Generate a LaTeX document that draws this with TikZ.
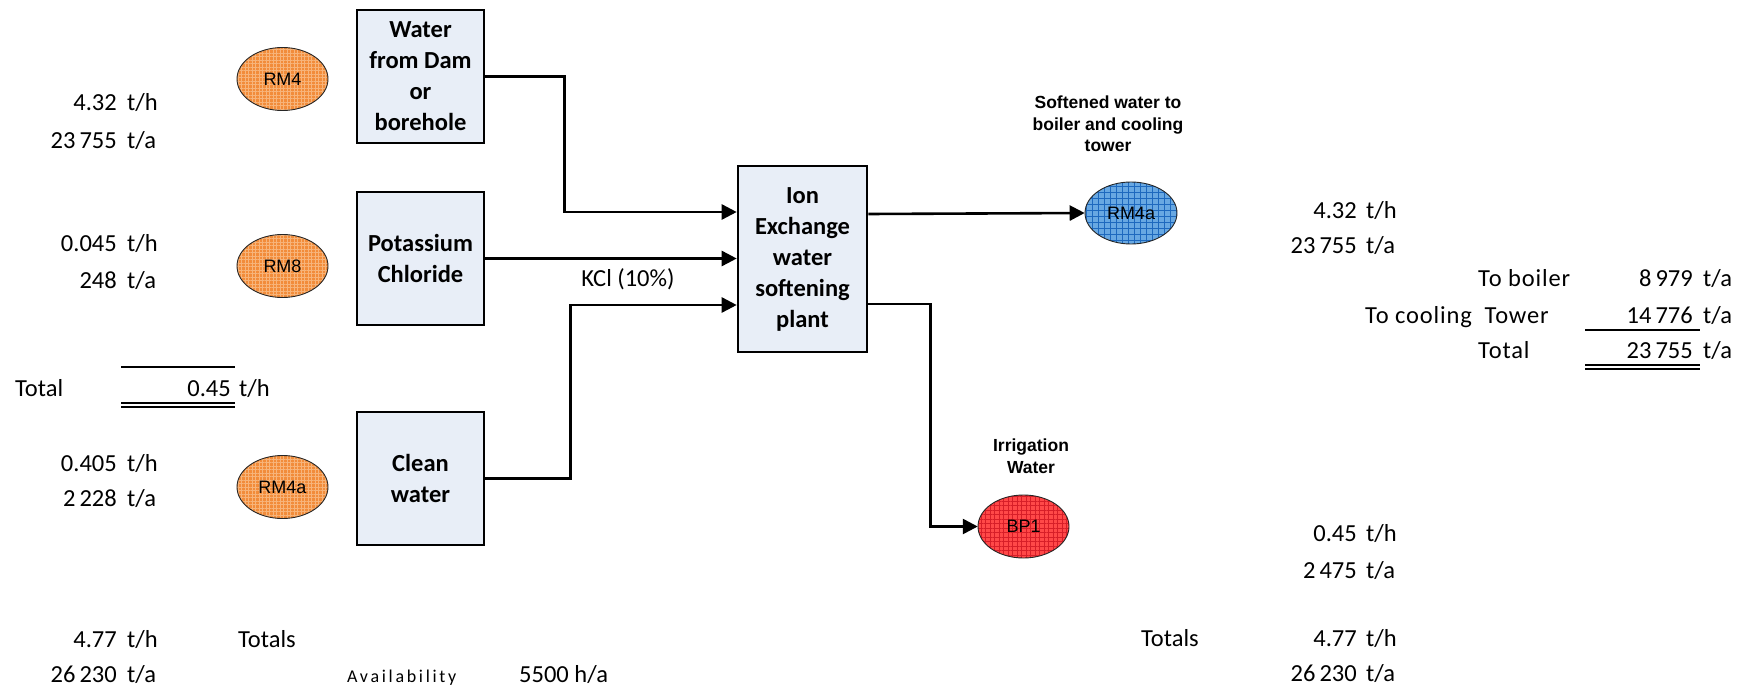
\documentclass[tikz,border=0pt]{standalone}
\usepackage{fontspec}
\setmainfont{Carlito}
\newfontfamily\arialfont{Liberation Sans}
\newfontfamily\spacedfont[LetterSpace=15]{Carlito}
\newfontfamily\widefont[LetterSpace=3.5]{Carlito}
\usetikzlibrary{arrows.meta,shapes.geometric,patterns.meta}

\definecolor{boxfill}{RGB}{232,238,247}
\definecolor{orangebase}{RGB}{242,140,58}
\definecolor{orangegrid}{RGB}{247,180,122}
\definecolor{bluebase}{RGB}{104,168,226}
\definecolor{bluegrid}{RGB}{30,105,190}
\definecolor{redbase}{RGB}{255,72,72}
\definecolor{redgrid}{RGB}{215,30,40}

\tikzset{
  unitbox/.style={draw=black, line width=2.6pt, fill=boxfill,
    minimum width=127pt, minimum height=133pt, inner sep=0pt, align=center,
    font=\bfseries\fontsize{24.5}{31}\selectfont},
  stream/.style={ellipse, draw=black!85, line width=0.9pt,
    minimum width=91pt, minimum height=63pt, inner sep=0pt,
    font=\arialfont\fontsize{18}{20}\selectfont},
  feedorange/.style={preaction={fill=orangebase},
    pattern={Hatch[angle=0,distance=3.5pt,line width=0.5pt]}, pattern color=orangegrid},
  productblue/.style={preaction={fill=bluebase},
    pattern={Hatch[angle=0,distance=6pt,line width=0.6pt]}, pattern color=bluegrid},
  byprodred/.style={preaction={fill=redbase},
    pattern={Hatch[angle=0,distance=4.5pt,line width=0.5pt]}, pattern color=redgrid},
  flow/.style={line width=2.6pt, -{Triangle[length=15pt,width=15pt]}},
  val/.style={inner sep=0pt, font=\fontsize{24.5}{30}\selectfont},
  num/.style={val, anchor=base east},
  unit/.style={val, anchor=base west},
  lefttext/.style={val, anchor=base west},
  splittext/.style={lefttext, font=\widefont\fontsize{24.5}{30}\selectfont},
  tag/.style={inner sep=0pt, align=center,
    font=\arialfont\bfseries\fontsize{17.5}{21.5}\selectfont},
  rule/.style={line width=2pt},
  dblrule/.style={line width=1.3pt},
}

\begin{document}
\begin{tikzpicture}[x=1pt,y=-1pt]
\useasboundingbox (0,0) rectangle (1744,690);

% process units
\node[unitbox] (dam) at (420.5,76.5) {Water\\from Dam\\or\\borehole};
\node[unitbox] (kcl) at (420.5,258.5) {Potassium\\Chloride};
\node[unitbox] (clean) at (420.5,478.5) {Clean\\water};
\node[unitbox, minimum width=129pt, minimum height=186pt] (ix) at (802.5,259)
  {Ion\\Exchange\\water\\softening\\plant};

% stream markers
\node[stream, feedorange] (rm4) at (282.5,79) {RM4};
\node[stream, feedorange] (rm8) at (282.5,266) {RM8};
\node[stream, feedorange] (rm4al) at (282.5,487) {RM4a};
\node[stream, productblue, minimum width=92pt, minimum height=62pt] (rm4ar) at (1131,213) {RM4a};
\node[stream, byprodred] (bp1) at (1023.5,526.5) {BP1};

% stream captions
\node[tag] (softlbl) at (1108,124) {Softened water to\\boiler and cooling\\tower};
\node[tag] (irrlbl) at (1031,456) {Irrigation\\Water};
\node[val] (kcllbl) at (628,279) {KCl (10\%)};

% flows into and out of the softening plant
\draw[flow] (dam.east) -- ++(79,0) |- ([yshift=47pt]ix.west);
\draw[flow] (kcl.east) -- (kcl.east -| ix.west);
\draw[flow] (clean.east) -- ++(85,0) |- ([yshift=-46pt]ix.west);
\draw[flow] ([yshift=45pt]ix.east) -- (rm4ar.west);
\draw[flow] ([yshift=-45pt]ix.east) -- ++(62,0) |- (bp1.west);

% inputs, left column
\node[num] (a1) at (117,111) {4.32};      \node[unit] (a1u) at (127,111) {t/h};
\node[num] (a2) at (117,148) {23\,755};   \node[unit] (a2u) at (127,148) {t/a};
\node[num] (b1) at (117,251) {0.045};     \node[unit] (b1u) at (127,251) {t/h};
\node[num] (b2) at (117,288) {248};       \node[unit] (b2u) at (127,288) {t/a};
\node[num] (c1) at (117,471) {0.405};     \node[unit] (c1u) at (127,471) {t/h};
\node[num] (c2) at (117,506) {2\,228};    \node[unit] (c2u) at (127,506) {t/a};
\node[num] (d1) at (117,647) {4.77};      \node[unit] (d1u) at (127,647) {t/h};
\node[num] (d2) at (117,682) {26\,230};   \node[unit] (d2u) at (127,682) {t/a};
\node[lefttext] (dlbl) at (238,647) {Totals};

% subtotal of the non-dam feeds
\node[lefttext] (tlbl) at (15,396) {Total};
\node[num] (t1) at (231,396) {0.45};      \node[unit] (t1u) at (239,396) {t/h};
\draw[rule] (121,367) -- (235,367);
\draw[dblrule] (121,403) -- (235,403) (121,407) -- (235,407);

% operating hours
\node[lefttext, font=\spacedfont\fontsize{18}{20}\selectfont] (avail) at (347,682) {Availability};
\node[lefttext] (hours) at (519,682) {5500 h/a};

% outputs, right column
\node[num] (e1) at (1357,218) {4.32};     \node[unit] (e1u) at (1366,218) {t/h};
\node[num] (e2) at (1357,253) {23\,755};  \node[unit] (e2u) at (1366,253) {t/a};
\node[num] (f1) at (1357,541) {0.45};     \node[unit] (f1u) at (1366,541) {t/h};
\node[num] (f2) at (1357,578) {2\,475};   \node[unit] (f2u) at (1366,578) {t/a};
\node[num] (g1) at (1357,646) {4.77};     \node[unit] (g1u) at (1366,646) {t/h};
\node[num] (g2) at (1357,681) {26\,230};  \node[unit] (g2u) at (1366,681) {t/a};
\node[lefttext] (glbl) at (1141,646) {Totals};

% split of the softened water
\node[splittext] (s1l) at (1478,286) {To boiler};
\node[num] (s1) at (1693,286) {8\,979};   \node[unit] (s1u) at (1703,286) {t/a};
\node[splittext] (s2l) at (1365,323) {To cooling\ \ Tower};
\node[num] (s2) at (1693,323) {14\,776};  \node[unit] (s2u) at (1703,323) {t/a};
\node[splittext] (s3l) at (1478,358) {Total};
\node[num] (s3) at (1693,358) {23\,755};  \node[unit] (s3u) at (1703,358) {t/a};
\draw[rule] (1585,330) -- (1700,330);
\draw[dblrule] (1585,365) -- (1700,365) (1585,369) -- (1700,369);
\end{tikzpicture}
\end{document}
